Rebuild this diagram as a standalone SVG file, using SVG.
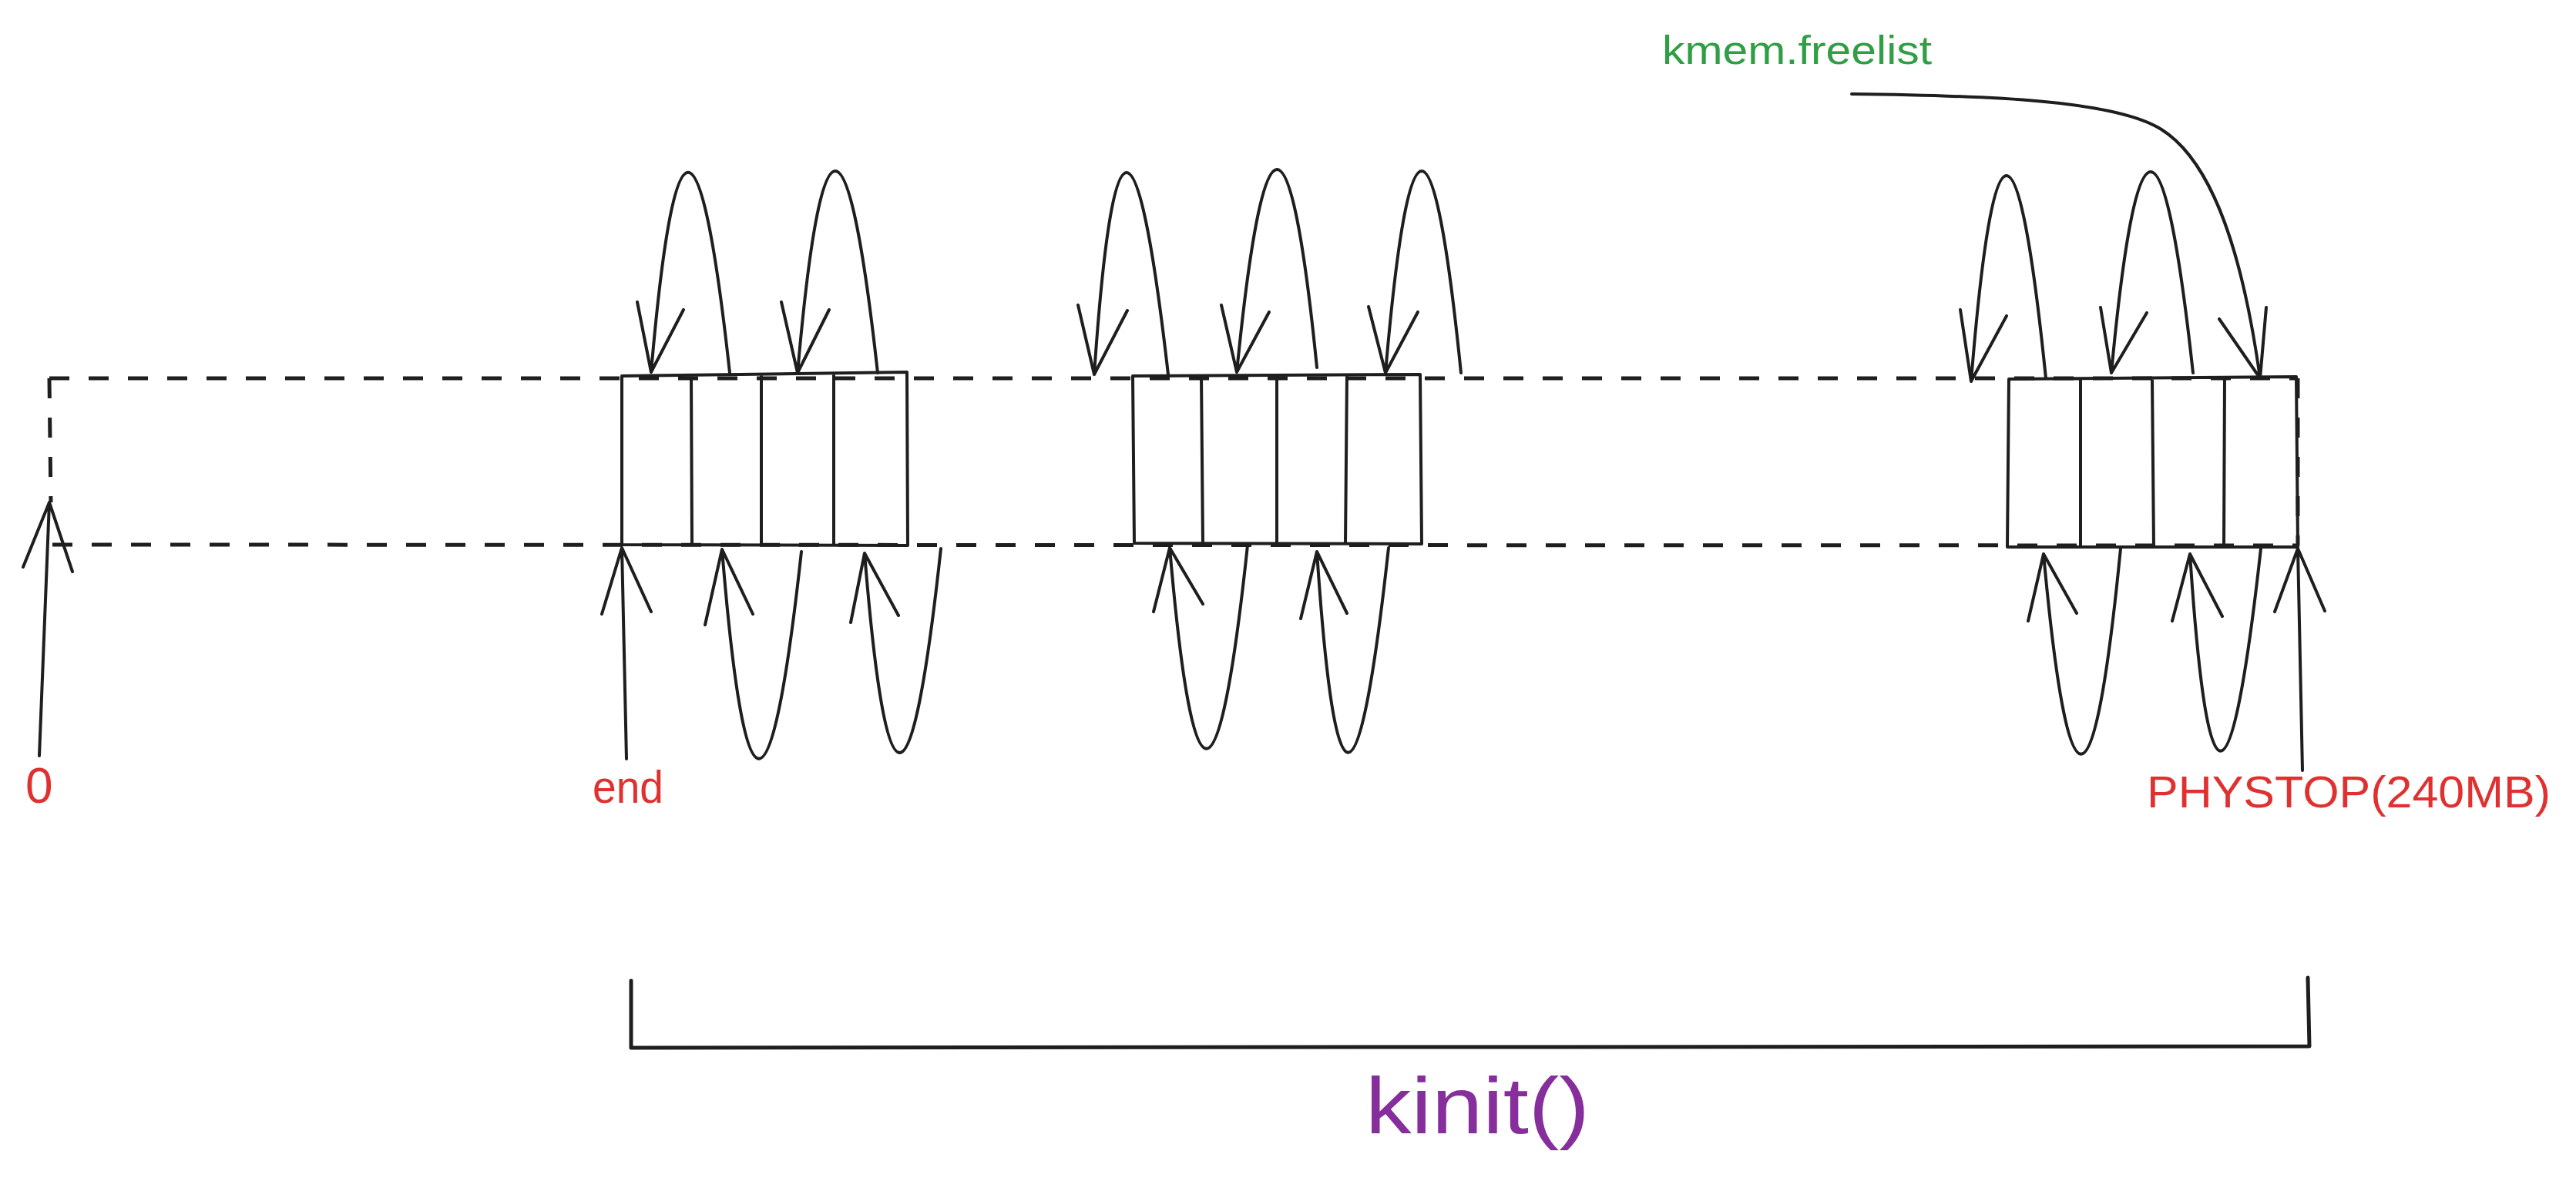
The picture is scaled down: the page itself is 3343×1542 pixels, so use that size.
<svg xmlns="http://www.w3.org/2000/svg" width="3343" height="1542" viewBox="0 0 3343 1542">
<style>
.s{fill:none;stroke:#1e1e1e;stroke-width:4;stroke-linecap:round;stroke-linejoin:round}
.b{fill:none;stroke:#1e1e1e;stroke-width:4;stroke-linejoin:round}
.d{fill:none;stroke:#1e1e1e;stroke-width:5;stroke-dasharray:26 25}
.red{fill:#e03131;font-family:"Liberation Sans",Arial,sans-serif}
.grn{fill:#2f9e44;font-family:"Liberation Sans",Arial,sans-serif}
.vio{fill:#862e9c;font-family:"Liberation Sans",Arial,sans-serif}
</style>
<rect width="3343" height="1542" fill="#ffffff"/>
<g id="memory-range">
<path class="d" d="M64,491 L2982,491 M64,491 L66,652 M68,707 L2982,708 M2982,491 L2982,708"/>
</g>
<g id="block1">
<path class="b" d="M807,488 L1177,483 L1178,708 L807,707 Z M897,487 L898,707 M988,486 L988,708 M1082,485 L1082,708"/>
</g>
<g id="block2">
<path class="b" d="M1470,488 L1843,486 L1845,706 L1472,705 Z M1559,488 L1561,705 M1657,487 L1657,706 M1748,487 L1746,706"/>
</g>
<g id="block3">
<path class="b" d="M2607,492 L2980,489 L2982,710 L2605,710 Z M2700,492 L2700,710 M2793,491 L2795,710 M2887,490 L2886,710"/>
</g>
<g id="kinit-bracket">
<path class="s" style="stroke-width:5" d="M819,1273 L819,1360 L2997,1358 L2995,1269"/>
</g>
<g id="labels">
<text class="red" x="33" y="1042" font-size="64">0</text>
<text class="red" x="769" y="1042" font-size="60" textLength="92" lengthAdjust="spacingAndGlyphs">end</text>
<text class="red" x="2786" y="1048" font-size="58" textLength="524" lengthAdjust="spacingAndGlyphs">PHYSTOP(240MB)</text>
<text class="grn" x="2157" y="83" font-size="52" textLength="350" lengthAdjust="spacingAndGlyphs">kmem.freelist</text>
<text class="vio" x="1772" y="1471" font-size="104" textLength="291" lengthAdjust="spacingAndGlyphs">kinit()</text>
</g>
<g id="connectors">
<path class="s" d="M947,484 Q890,-36 845,483 M827,392 L845,483 L887,402"/>
<path class="s" d="M1139,484 Q1081,-40 1035,484 M1014,392 L1035,484 L1076,402"/>
<path class="s" d="M1516,486 Q1456,-38 1420,486 M1399,396 L1420,486 L1463,403"/>
<path class="s" d="M1709,477 Q1657,-40 1605,483 M1585,396 L1605,483 L1647,405"/>
<path class="s" d="M1896,484 Q1843,-40 1798,484 M1776,398 L1798,484 L1840,405"/>
<path class="s" d="M2655,491 Q2601,-37 2558,495 M2544,402 L2558,495 L2604,410"/>
<path class="s" d="M2846,484 Q2789,-38 2740,484 M2726,399 L2740,484 L2786,406"/>
<path class="s" d="M1040,716 Q981,1255 937,713 M915,811 L937,713 L977,797"/>
<path class="s" d="M1221,712 Q1164,1239 1122,718 M1104,808 L1122,718 L1166,799"/>
<path class="s" d="M1619,708 Q1563,1234 1518,711 M1497,794 L1518,711 L1561,784"/>
<path class="s" d="M1802,711 Q1744,1240 1709,716 M1688,803 L1709,716 L1748,796"/>
<path class="s" d="M2752,712 Q2700,1242 2652,719 M2632,806 L2652,719 L2695,796"/>
<path class="s" d="M2934,712 Q2876,1234 2842,719 M2819,806 L2842,719 L2884,800"/>
<path class="s" d="M51,981 L64,652 M30,736 L64,652 L94,742"/>
<path class="s" d="M813,985 L807,711 M781,797 L807,711 L845,794"/>
<path class="s" d="M2988,1000 L2982,712 M2952,794 L2982,712 L3017,793"/>
<path class="s" d="M2403,122 C2580,124 2745,130 2805,168 C2875,212 2912,340 2933,491 M2880,414 L2933,491 L2941,399"/>
</g>
</svg>
